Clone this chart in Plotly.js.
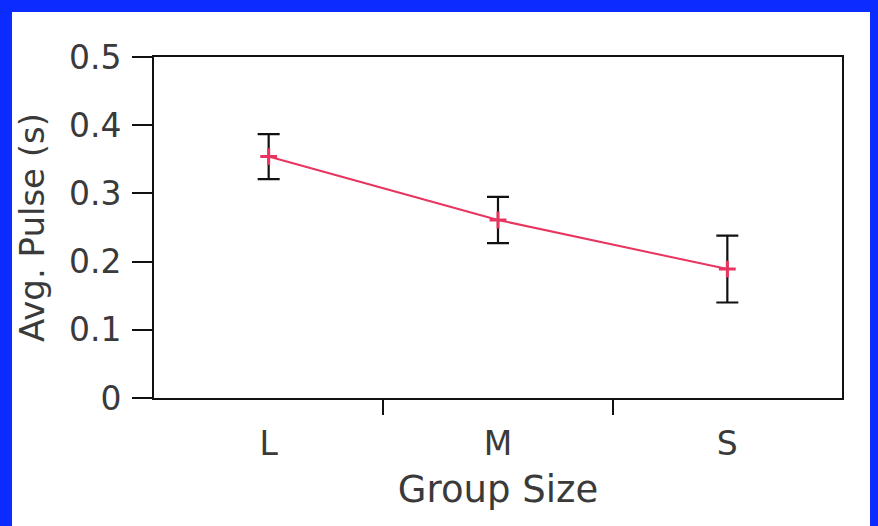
<!DOCTYPE html>
<html>
<head>
<meta charset="utf-8">
<script src="https://cdn.plot.ly/plotly-3.0.1.min.js"></script>
<style>
html,body{margin:0;padding:0;background:#0b2bff;width:878px;height:526px;overflow:hidden;}
#chart{position:absolute;left:12px;top:12px;width:858px;height:514px;background:#fff;}
</style>
</head>
<body>
<div id="chart"></div>
<script>
const categories = ['L', 'M', 'S'];
const avgPulse = [0.354, 0.261, 0.189];
const errPulse = [0.033, 0.034, 0.049];
const yTicks = [0, 0.1, 0.2, 0.3, 0.4, 0.5];
const yTickText = ['0', '0.1', '0.2', '0.3', '0.4', '0.5'];

const xIdx = categories.map((c, i) => i);
const boundaries = categories.slice(1).map((c, i) => i + 0.5);

const font = {family: 'DejaVu Sans, sans-serif', color: '#3a3a3a'};

const trace = {
  x: xIdx,
  y: avgPulse,
  type: 'scatter',
  mode: 'lines+markers',
  line: {color: '#e8345e', width: 2},
  marker: {symbol: 'cross-thin', size: 12, color: '#e8345e', line: {color: '#e8345e', width: 3}},
  error_y: {type: 'data', array: errPulse, visible: true, color: '#111', thickness: 2.2, width: 11},
  hoverinfo: 'none'
};

const layout = {
  width: 858, height: 514,
  margin: {l: 142, r: 28, t: 45, b: 128},
  paper_bgcolor: '#fff',
  plot_bgcolor: '#fff',
  showlegend: false,
  font: Object.assign({size: 33}, font),
  xaxis: {
    range: [-0.5, 2.5],
    tickmode: 'array',
    tickvals: xIdx,
    ticktext: categories,
    ticks: '',
    ticklabelstandoff: 15,
    tickfont: Object.assign({size: 33}, font),
    showgrid: false, zeroline: false,
    showline: true, linecolor: '#111', linewidth: 2, mirror: true,
    minor: {tickmode: 'array', tickvals: boundaries, ticks: 'outside', ticklen: 15, tickwidth: 2, tickcolor: '#111', showgrid: false},
    title: {text: 'Group Size', font: Object.assign({size: 37}, font), standoff: 15}
  },
  yaxis: {
    range: [0, 0.5],
    tickmode: 'array',
    tickvals: yTicks,
    ticktext: yTickText,
    ticks: 'outside', ticklen: 20, tickwidth: 2, tickcolor: '#111',
    ticklabelstandoff: 4,
    tickfont: Object.assign({size: 33}, font),
    showgrid: false, zeroline: false,
    showline: true, linecolor: '#111', linewidth: 2, mirror: true,
    title: {text: 'Avg. Pulse (s)', font: Object.assign({size: 34}, font), standoff: 22}
  }
};

Plotly.newPlot('chart', [trace], layout, {displayModeBar: false, staticPlot: true});
</script>
</body>
</html>
